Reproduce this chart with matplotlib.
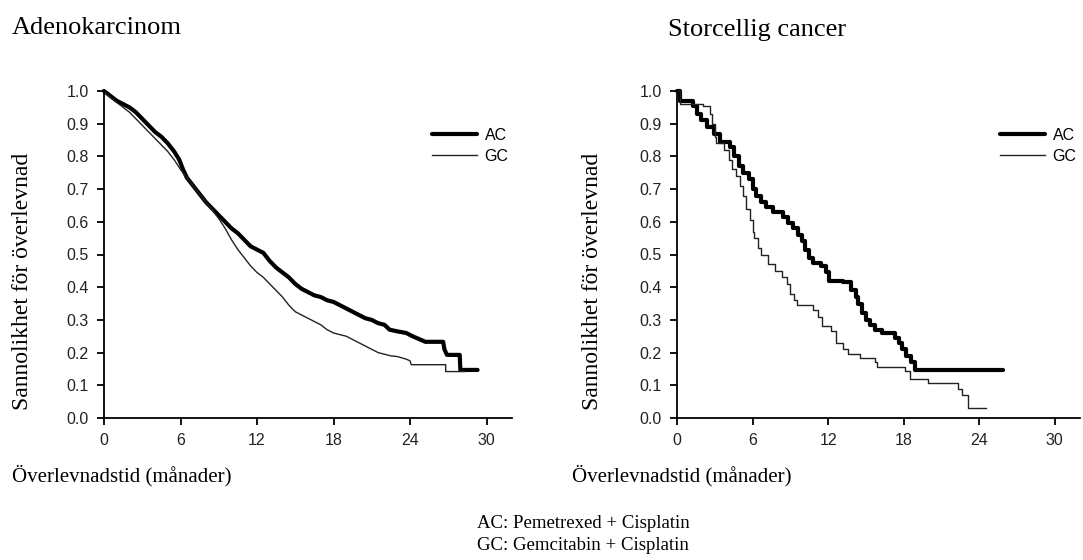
import matplotlib
matplotlib.use("Agg")
import matplotlib.pyplot as plt

# Kaplan-Meier estimates (months, survival)
# adenocarcinoma curves have many small steps -> traced as a polyline
adeno_ac_t = [0, 0.5, 1.0, 1.5, 2.0, 2.5, 3.0, 3.5, 4.0, 4.5, 5.0, 5.5, 5.9, 6.2, 6.5,
              7.0, 7.5, 8.0, 8.5, 9.0, 9.5, 10.0, 10.5, 11.0, 11.5, 12.0, 12.5, 13.0,
              13.5, 14.0, 14.5, 15.0, 15.5, 16.0, 16.5, 17.0, 17.5, 18.0, 18.5, 19.0,
              19.5, 20.0, 20.5, 21.0, 21.5, 22.0, 22.4, 23.0, 23.7, 24.2, 24.8, 25.2,
              26.6, 26.7, 26.9, 27.9, 27.95, 29.3]
adeno_ac_s = [1.0, 0.985, 0.97, 0.96, 0.95, 0.935, 0.915, 0.895, 0.875, 0.86, 0.84,
              0.815, 0.79, 0.76, 0.735, 0.71, 0.685, 0.66, 0.64, 0.62, 0.60, 0.58,
              0.565, 0.545, 0.525, 0.515, 0.505, 0.48, 0.46, 0.445, 0.43, 0.41, 0.395,
              0.385, 0.375, 0.37, 0.36, 0.355, 0.345, 0.335, 0.325, 0.315, 0.305, 0.30,
              0.29, 0.285, 0.27, 0.265, 0.26, 0.25, 0.24, 0.233, 0.233, 0.21, 0.193,
              0.193, 0.147, 0.147]

adeno_gc_t = [0, 0.5, 1.0, 1.5, 2.0, 2.5, 3.0, 3.5, 4.0, 4.5, 5.0, 5.5, 6.0, 6.5, 7.0,
              7.5, 8.0, 8.5, 9.0, 9.5, 10.0, 10.5, 11.0, 11.5, 12.0, 12.5, 13.0, 13.5,
              14.0, 14.5, 15.0, 15.5, 16.0, 16.5, 17.0, 17.5, 18.0, 18.5, 19.0, 19.5,
              20.0, 20.5, 21.0, 21.5, 22.0, 22.5, 23.0, 23.7, 24.0, 24.1, 26.8, 26.8,
              28.3]
adeno_gc_s = [1.0, 0.98, 0.965, 0.95, 0.935, 0.915, 0.895, 0.875, 0.855, 0.835, 0.815,
              0.79, 0.76, 0.735, 0.71, 0.685, 0.66, 0.635, 0.61, 0.58, 0.545, 0.515,
              0.49, 0.465, 0.445, 0.43, 0.41, 0.39, 0.37, 0.345, 0.325, 0.315, 0.305,
              0.295, 0.285, 0.27, 0.26, 0.255, 0.25, 0.24, 0.23, 0.22, 0.21, 0.20,
              0.195, 0.19, 0.188, 0.18, 0.175, 0.163, 0.163, 0.142, 0.142]

# large cell curves: coarse steps (event time, survival after event)
large_ac_t = [0, 0.2, 1.3, 1.6, 1.9, 2.4, 2.9, 3.4, 4.2, 4.5, 4.9, 5.25, 5.7, 6.0, 6.3,
              6.7, 7.1, 7.6, 8.4, 8.8, 9.2, 9.6, 9.9, 10.2, 10.5, 10.8, 11.4, 11.8,
              12.1, 13.2, 13.8, 14.2, 14.4, 14.7, 15.0, 15.3, 15.7, 16.3, 17.3, 17.6,
              17.9, 18.2, 18.6, 18.9, 25.9]
large_ac_s = [1.0, 0.97, 0.955, 0.93, 0.91, 0.89, 0.87, 0.845, 0.83, 0.80, 0.77, 0.75,
              0.73, 0.70, 0.68, 0.66, 0.645, 0.63, 0.615, 0.595, 0.58, 0.56, 0.54,
              0.515, 0.49, 0.475, 0.465, 0.445, 0.42, 0.415, 0.39, 0.37, 0.35, 0.32,
              0.30, 0.285, 0.27, 0.26, 0.245, 0.23, 0.21, 0.19, 0.17, 0.147, 0.147]

large_gc_t = [0, 0.2, 2.1, 2.6, 2.8, 3.0, 3.1, 3.7, 4.1, 4.4, 4.7, 5.0, 5.25, 5.5, 5.8,
              6.0, 6.1, 6.4, 6.7, 7.2, 7.8, 8.3, 8.7, 9.0, 9.3, 9.5, 10.8, 11.2, 11.5,
              12.2, 12.6, 13.2, 13.6, 14.5, 15.7, 15.9, 18.1, 18.5, 19.9, 22.3, 22.6,
              23.1, 24.5]
large_gc_s = [1.0, 0.96, 0.955, 0.93, 0.90, 0.86, 0.84, 0.82, 0.79, 0.76, 0.74, 0.71,
              0.68, 0.64, 0.605, 0.57, 0.55, 0.52, 0.50, 0.47, 0.45, 0.43, 0.41, 0.38,
              0.36, 0.346, 0.33, 0.31, 0.28, 0.265, 0.23, 0.21, 0.195, 0.185, 0.17,
              0.155, 0.145, 0.12, 0.107, 0.09, 0.07, 0.03, 0.03]

x_ticks = [0, 6, 12, 18, 24, 30]
y_ticks = [0.0, 0.1, 0.2, 0.3, 0.4, 0.5, 0.6, 0.7, 0.8, 0.9, 1.0]

serif = "Liberation Serif"
sans = "Liberation Sans"
W, H = 1083, 560

fig = plt.figure(figsize=(W / 100, H / 100), dpi=100)


def make_panel(left_px, right_px, ac_t, ac_s, gc_t, gc_s, legend_px, style):
    ax = fig.add_axes([left_px / W, 142 / H, (right_px - left_px) / W, 327 / H])
    ax.plot(ac_t, ac_s, drawstyle=style, color="black", lw=3.0, label="AC",
            clip_on=False, solid_capstyle="round", solid_joinstyle="round")
    ax.plot(gc_t, gc_s, drawstyle=style, color="#222222", lw=1.0, label="GC",
            clip_on=False)
    ax.set_xlim(0, 32)
    ax.set_ylim(0, 1.0)
    ax.set_xticks(x_ticks)
    ax.set_yticks(y_ticks)
    ax.set_yticklabels([f"{v:.1f}" for v in y_ticks])
    for s in ["top", "right"]:
        ax.spines[s].set_visible(False)
    for s in ["left", "bottom"]:
        ax.spines[s].set_linewidth(1.3)
    ax.tick_params(direction="out", length=5, width=1.3, pad=6,
                   labelsize=11.5, labelcolor="#222222")
    for lab in ax.get_xticklabels() + ax.get_yticklabels():
        lab.set_fontfamily(sans)
    ax.legend(loc="upper left", bbox_to_anchor=(legend_px[0] / W, 1 - legend_px[1] / H),
              bbox_transform=fig.transFigure, frameon=False, borderpad=0,
              borderaxespad=0, handlelength=2.8, handletextpad=0.5,
              labelspacing=0.35, prop={"family": sans, "size": 11.5})
    return ax


make_panel(104, 512, adeno_ac_t, adeno_ac_s, adeno_gc_t, adeno_gc_s, (432, 128), "default")
make_panel(677, 1080, large_ac_t, large_ac_s, large_gc_t, large_gc_s, (1000, 128), "steps-post")

# titles and axis texts
fig.text(12 / W, 1 - 28 / H, "Adenokarcinom", family=serif, fontsize=19, va="center")
fig.text(668 / W, 1 - 30 / H, "Storcellig cancer", family=serif, fontsize=19, va="center")
fig.text(23 / W, 1 - 281 / H, "Sannolikhet för överlevnad", family=serif, fontsize=17,
         rotation=90, ha="center", va="center")
fig.text(593 / W, 1 - 281 / H, "Sannolikhet för överlevnad", family=serif, fontsize=17,
         rotation=90, ha="center", va="center")
fig.text(12 / W, 1 - 476 / H, "Överlevnadstid (månader)", family=serif, fontsize=15,
         va="center")
fig.text(572 / W, 1 - 476 / H, "Överlevnadstid (månader)", family=serif, fontsize=15,
         va="center")

# footnote
fig.text(477 / W, 1 - 523 / H, "AC: Pemetrexed + Cisplatin", family=serif, fontsize=13.5,
         va="center")
fig.text(477 / W, 1 - 545 / H, "GC: Gemcitabin + Cisplatin", family=serif, fontsize=13.5,
         va="center")

fig.savefig("out.png", dpi=100, facecolor="white")
plt.close(fig)
